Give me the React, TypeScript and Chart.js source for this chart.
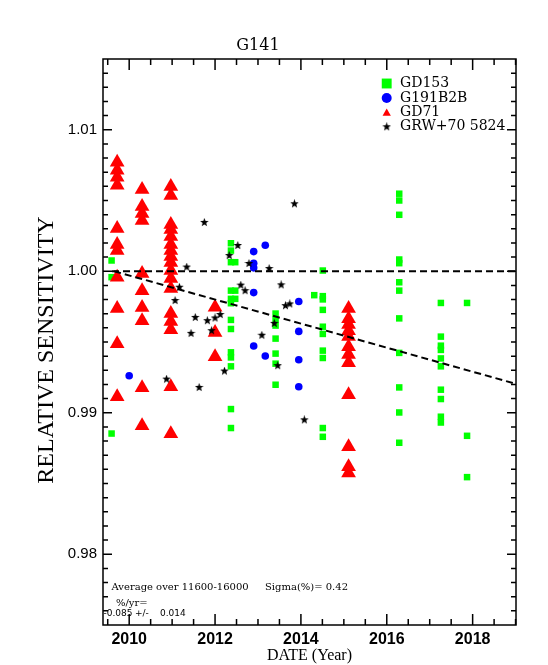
import React, { useEffect, useRef } from 'react';
import { Chart, registerables } from 'chart.js';
import { drawPoint } from 'chart.js/helpers';

Chart.register(...registerables);

// GD153 (green squares)
const gd153Year = [
  2009.59, 2009.59, 2009.59,
  2012.37, 2012.37, 2012.37, 2012.37, 2012.37, 2012.37, 2012.37, 2012.37, 2012.37, 2012.37, 2012.37, 2012.37, 2012.37,
  2012.47, 2012.47, 2012.47,
  2013.41, 2013.41, 2013.41, 2013.41, 2013.41, 2013.41, 2013.41,
  2014.31,
  2014.51, 2014.51, 2014.51, 2014.51, 2014.51, 2014.51, 2014.51, 2014.51, 2014.51, 2014.51,
  2016.29, 2016.29, 2016.29, 2016.29, 2016.29, 2016.29, 2016.29, 2016.29, 2016.29, 2016.29, 2016.29, 2016.29,
  2017.26, 2017.26, 2017.26, 2017.26, 2017.26, 2017.26, 2017.26, 2017.26, 2017.26, 2017.26,
  2017.87, 2017.87, 2017.87,
];
const gd153Sens = [
  1.00076, 0.99958, 0.98853,
  1.00198, 1.00146, 1.00064, 0.99863, 0.99805, 0.99774, 0.99656, 0.99592, 0.99427, 0.99391, 0.99328, 0.99026, 0.98892,
  1.00064, 0.99863, 0.99805,
  0.99701, 0.99658, 0.99616, 0.99524, 0.99418, 0.99347, 0.99198,
  0.99831,
  1.00005, 0.99824, 0.99801, 0.99727, 0.99608, 0.99557, 0.99439, 0.99387, 0.98892, 0.9883,
  1.00548, 1.005, 1.00399, 1.00083, 1.00057, 0.99922, 0.99863, 0.99667, 0.99423, 0.99179, 0.99002, 0.98788,
  0.99776, 0.99538, 0.99474, 0.99444, 0.99384, 0.99328, 0.99163, 0.99097, 0.98972, 0.98931,
  0.99776, 0.98837, 0.98545,
];

// G191B2B (blue circles)
const g191Year = [2010.0, 2012.9, 2012.9, 2012.9, 2012.9, 2012.9, 2013.17, 2013.17, 2013.95, 2013.95, 2013.95, 2013.95];
const g191Sens = [0.99262, 1.00139, 1.00057, 1.00024, 0.99849, 0.99472, 1.00184, 0.99401, 0.99786, 0.99575, 0.99375, 0.99184];

// GD71 (red triangles)
const gd71Year = [
  2009.72, 2009.72, 2009.72, 2009.72, 2009.72, 2009.72, 2009.72, 2009.72, 2009.72, 2009.72, 2009.72,
  2010.3, 2010.3, 2010.3, 2010.3, 2010.3, 2010.3, 2010.3, 2010.3, 2010.3, 2010.3,
  2010.97, 2010.97, 2010.97, 2010.97, 2010.97, 2010.97, 2010.97, 2010.97, 2010.97, 2010.97, 2010.97, 2010.97, 2010.97, 2010.97, 2010.97, 2010.97, 2010.97,
  2012.0, 2012.0, 2012.0,
  2015.11, 2015.11, 2015.11, 2015.11, 2015.11, 2015.11, 2015.11, 2015.11, 2015.11, 2015.11, 2015.11, 2015.11,
];
const gd71Sens = [
  1.00771, 1.00713, 1.00665, 1.00607, 1.00302, 1.00189, 1.00146, 0.99958, 0.99736, 0.99488, 0.99113,
  1.00578, 1.00458, 1.00408, 1.00359, 0.99984, 0.99863, 0.99743, 0.99651, 0.99177, 0.98908,
  1.00599, 1.00536, 1.00331, 1.00295, 1.00246, 1.00189, 1.00146, 1.00104, 1.00062, 1.00005, 0.99948, 0.99878, 0.99701, 0.99644, 0.99587, 0.99184, 0.98851,
  0.99745, 0.99568, 0.99396,
  0.99736, 0.99665, 0.99623, 0.9958, 0.99538, 0.99467, 0.99411, 0.99354, 0.99127, 0.98759, 0.98618, 0.98575,
];

// GRW+70 5824 (black stars)
const grwYear = [
  2010.87, 2011.07, 2011.17, 2011.34, 2011.44, 2011.54, 2011.63, 2011.75, 2011.82, 2011.92,
  2012.0, 2012.12, 2012.22, 2012.33, 2012.53, 2012.6, 2012.7, 2012.79, 2013.09, 2013.26,
  2013.38, 2013.46, 2013.54, 2013.64, 2013.74, 2013.85, 2014.08,
];
const grwSens = [
  0.99238, 0.99793, 0.99887, 1.0003, 0.99561, 0.99674, 0.99179, 1.00345, 0.99651, 0.9958,
  0.9967, 0.99694, 0.99295, 1.00111, 1.00182, 0.99902, 0.99863, 1.00055, 0.99548, 1.00019,
  0.99632, 0.99333, 0.99904, 0.99757, 0.99769, 1.00477, 0.9895,
];

// reference line and fitted trend (-0.085 %/yr)
const refLineYear = [2009.6, 2019.01];
const refLineSens = [1.0, 1.0];
const trendYear = [2009.65, 2019.01];
const trendSens = [1.0, 0.99204];

const xMin = 2009.39;
const xMax = 2019.01;
const yMin = 0.975;
const yMax = 1.015;
const xTickYears = [2010, 2012, 2014, 2016, 2018];
const yTickValues = [0.98, 0.99, 1.0, 1.01];

const legendNames = ['GD153', 'G191B2B', 'GD71', 'GRW+70 5824'];

const toPoints = (xs: number[], ys: number[]) => xs.map((x, i) => ({ x, y: ys[i] }));

function makeStar(size: number) {
  const c = document.createElement('canvas');
  c.width = size;
  c.height = size;
  const ctx = c.getContext('2d')!;
  const r = size / 2;
  ctx.beginPath();
  for (let i = 0; i < 10; i++) {
    const a = -Math.PI / 2 + (i * Math.PI) / 5;
    const rr = i % 2 === 0 ? r : r * 0.42;
    ctx.lineTo(r + rr * Math.cos(a), r + rr * Math.sin(a));
  }
  ctx.closePath();
  ctx.fillStyle = '#000';
  ctx.fill();
  return c;
}

const App: React.FC = () => {
  const ref = useRef<HTMLCanvasElement>(null);

  useEffect(() => {
    if (!ref.current) return;
    const star = makeStar(9);

    // box, inward ticks, y title, notes and legend
    const framePlugin = {
      id: 'frame',
      afterDraw(chart: any) {
        const { ctx, chartArea: a } = chart;
        const xs = chart.scales.x;
        const ys = chart.scales.y;
        ctx.save();
        ctx.strokeStyle = '#000';
        ctx.lineWidth = 1.5;
        ctx.strokeRect(a.left, a.top, a.right - a.left, a.bottom - a.top);
        ctx.beginPath();
        for (let i = 4019; i <= 4038; i++) {
          const px = xs.getPixelForValue(i / 2);
          const len = i % 4 === 0 ? 11 : 6;
          ctx.moveTo(px, a.bottom);
          ctx.lineTo(px, a.bottom - len);
          ctx.moveTo(px, a.top);
          ctx.lineTo(px, a.top + len);
        }
        for (let i = 976; i <= 1014; i++) {
          const py = ys.getPixelForValue(i / 1000);
          const len = i % 10 === 0 ? 9 : 5;
          ctx.moveTo(a.left, py);
          ctx.lineTo(a.left + len, py);
          ctx.moveTo(a.right, py);
          ctx.lineTo(a.right - len, py);
        }
        ctx.stroke();

        // y axis title
        ctx.fillStyle = '#000';
        ctx.save();
        ctx.translate(47, 350);
        ctx.rotate(-Math.PI / 2);
        ctx.font = '24px "Liberation Serif"';
        ctx.textAlign = 'center';
        ctx.textBaseline = 'middle';
        ctx.fillText('RELATIVE SENSITIVITY', 0, 0);
        ctx.restore();

        // notes
        ctx.font = '10px "DejaVu Serif"';
        ctx.textAlign = 'left';
        ctx.textBaseline = 'middle';
        ctx.fillText('Average over 11600-16000', 111.5, 587);
        ctx.fillText('Sigma(%)= 0.42', 265, 587);
        ctx.fillText('%/yr=', 116, 603);
        ctx.font = '9px "DejaVu Sans"';
        ctx.fillText('-0.085', 103.5, 614);
        ctx.fillText('+/-', 135, 614);
        ctx.fillText('0.014', 160, 614);

        // legend
        const lx = 386.7;
        const rows = [83.5, 98, 112.3, 126.8];
        ctx.fillStyle = '#00ff00';
        drawPoint(ctx, { pointStyle: 'rect', radius: 7, rotation: 0, borderWidth: 0 }, lx, rows[0]);
        ctx.fillStyle = '#0000ff';
        drawPoint(ctx, { pointStyle: 'circle', radius: 5, rotation: 0, borderWidth: 0 }, lx, rows[1]);
        ctx.fillStyle = '#ff0000';
        drawPoint(ctx, { pointStyle: 'triangle', radius: 4.8, rotation: 0, borderWidth: 0 }, lx, rows[2] + 1);
        drawPoint(ctx, { pointStyle: star, radius: 4.5, rotation: 0, borderWidth: 0 }, lx, rows[3]);
        ctx.fillStyle = '#000';
        ctx.font = '14px "DejaVu Serif"';
        legendNames.forEach((name, i) => ctx.fillText(name, 400, rows[i]));
        ctx.restore();
      },
    };

    const chart = new Chart(ref.current, {
      type: 'scatter',
      data: {
        datasets: [
          {
            label: 'ref',
            data: toPoints(refLineYear, refLineSens),
            showLine: true,
            borderColor: '#000',
            borderWidth: 2,
            borderDash: [7, 4],
            pointRadius: 0,
          },
          {
            label: 'trend',
            data: toPoints(trendYear, trendSens),
            showLine: true,
            borderColor: '#000',
            borderWidth: 2,
            borderDash: [7, 4],
            pointRadius: 0,
          },
          {
            label: legendNames[3],
            data: toPoints(grwYear, grwSens),
            pointStyle: star,
            pointRadius: 4.5,
            pointBorderWidth: 0,
            backgroundColor: '#000',
          },
          {
            label: legendNames[2],
            data: toPoints(gd71Year, gd71Sens),
            pointStyle: 'triangle',
            pointRadius: 8.5,
            pointBorderWidth: 0,
            backgroundColor: '#ff0000',
          },
          {
            label: legendNames[1],
            data: toPoints(g191Year, g191Sens),
            pointStyle: 'circle',
            pointRadius: 3.8,
            pointBorderWidth: 0,
            backgroundColor: '#0000ff',
          },
          {
            label: legendNames[0],
            data: toPoints(gd153Year, gd153Sens),
            pointStyle: 'rect',
            pointRadius: 4.6,
            pointBorderWidth: 0,
            backgroundColor: '#00ff00',
          },
        ],
      },
      options: {
        responsive: false,
        animation: false,
        events: [],
        layout: { padding: { left: 0, right: 32, top: 0, bottom: 0 } },
        plugins: {
          legend: { display: false },
          tooltip: { enabled: false },
          title: {
            display: true,
            text: 'G141',
            color: '#000',
            font: { family: '"DejaVu Serif"', size: 16, weight: 'normal' },
            padding: { top: 36, bottom: 3.8 },
          },
        },
        scales: {
          x: {
            type: 'linear',
            min: xMin,
            max: xMax,
            afterBuildTicks: (s: any) => {
              s.ticks = xTickYears.map((v) => ({ value: v }));
            },
            afterFit: (s: any) => {
              s.height = 40;
            },
            grid: { display: false, drawTicks: false },
            border: { display: false },
            ticks: {
              color: '#000',
              padding: 5,
              font: { family: '"Liberation Sans"', size: 16, weight: 'bold' },
              callback: (v: any) => String(v),
            },
            title: {
              display: true,
              text: 'DATE (Year)',
              color: '#000',
              font: { family: '"Liberation Serif"', size: 16 },
              padding: { top: 0, bottom: 0 },
            },
          },
          y: {
            type: 'linear',
            min: yMin,
            max: yMax,
            afterBuildTicks: (s: any) => {
              s.ticks = yTickValues.map((v) => ({ value: v }));
            },
            afterFit: (s: any) => {
              s.width = 103;
            },
            grid: { display: false, drawTicks: false },
            border: { display: false },
            ticks: {
              color: '#000',
              padding: 6,
              font: { family: '"Liberation Sans"', size: 15 },
              callback: (v: any) => Number(v).toFixed(2),
            },
          },
        },
      },
      plugins: [framePlugin],
    });

    return () => {
      chart.destroy();
    };
  }, []);

  return (
    <div style={{ position: 'fixed', left: 0, top: 0, width: 548, height: 665, background: '#fff' }}>
      <canvas ref={ref} width={548} height={665}></canvas>
    </div>
  );
};

export default App;
